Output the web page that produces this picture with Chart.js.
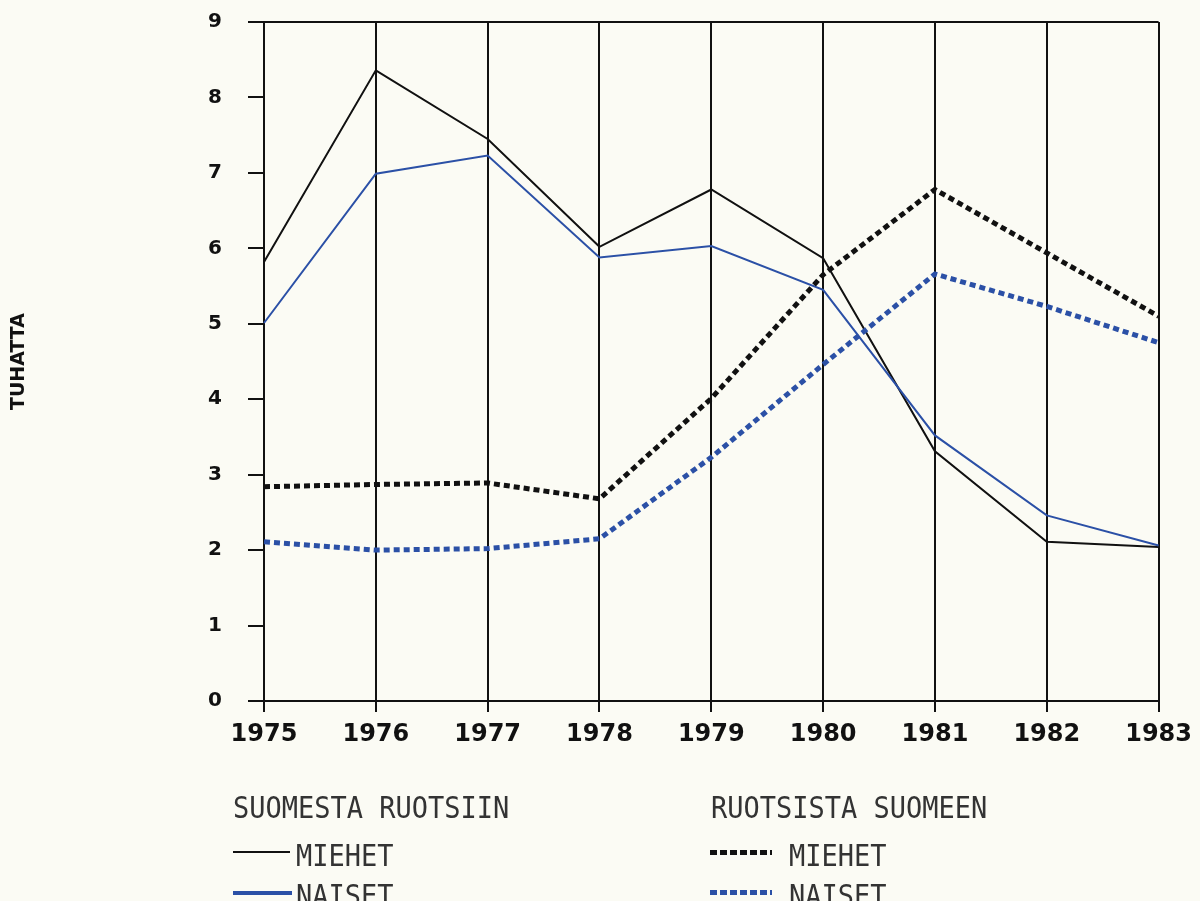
<!DOCTYPE html>
<html>
<head>
<meta charset="utf-8">
<script src="https://cdn.jsdelivr.net/npm/chart.js@4/dist/chart.umd.min.js"></script>
<style>
  html, body { margin: 0; padding: 0; background: #fbfbf4; }
  #wrap { position: relative; width: 1200px; height: 901px; overflow: hidden; }
  #chart { position: absolute; left: 0; top: 0; }
  .lg { position: absolute; font-family: "DejaVu Sans Mono", monospace; font-size: 27px;
        line-height: 27px; color: #333; white-space: nowrap; letter-spacing: 0px;
        transform-origin: left top; transform: scaleY(1.12); }
  .sw { position: absolute; height: 0; }
</style>
</head>
<body>
<div id="wrap">
  <canvas id="chart" width="1200" height="901"></canvas>

  <div class="lg" style="left:233px; top:792px;">SUOMESTA RUOTSIIN</div>
  <div class="lg" style="left:711px; top:792px;">RUOTSISTA SUOMEEN</div>

  <div class="sw" style="left:233px; top:851px; width:57px; border-top:2px solid #111;"></div>
  <div class="lg" style="left:296px; top:840px;">MIEHET</div>
  <div class="sw" style="left:233px; top:891px; width:59px; border-top:4px solid #2b50a6;"></div>
  <div class="lg" style="left:296px; top:880px;">NAISET</div>

  <div class="sw" style="left:710px; top:850px; width:62px; height:5px;
       background: repeating-linear-gradient(90deg, #111 0 7px, transparent 7px 10px);"></div>
  <div class="lg" style="left:789px; top:840px;">MIEHET</div>
  <div class="sw" style="left:710px; top:890px; width:62px; height:5px;
       background: repeating-linear-gradient(90deg, #2b50a6 0 7px, transparent 7px 10px);"></div>
  <div class="lg" style="left:789px; top:880px;">NAISET</div>
</div>

<script>
// Years on the horizontal axis
const years = ['1975', '1976', '1977', '1978', '1979', '1980', '1981', '1982', '1983'];

// Migration from Finland to Sweden (thousands)
const fiToSeMen   = [5.82, 8.36, 7.45, 6.02, 6.78, 5.87, 3.31, 2.11, 2.04];
const fiToSeWomen = [5.01, 6.99, 7.23, 5.88, 6.03, 5.45, 3.52, 2.46, 2.06];

// Migration from Sweden to Finland (thousands)
const seToFiMen   = [2.84, 2.87, 2.89, 2.68, 4.01, 5.65, 6.78, 5.94, 5.10];
const seToFiWomen = [2.11, 2.00, 2.02, 2.15, 3.23, 4.46, 5.66, 5.23, 4.75];

// Vertical axis range
const yMin = 0, yMax = 9, yStep = 1;

const INK = '#111111';
const BLUE = '#2b50a6';

const lineBase = { pointRadius: 0, tension: 0, fill: false, borderCapStyle: 'butt', borderJoinStyle: 'miter' };

new Chart(document.getElementById('chart'), {
  type: 'line',
  data: {
    labels: years,
    datasets: [
      Object.assign({ label: 'Ruotsista Suomeen, naiset', data: seToFiWomen, borderColor: BLUE, borderWidth: 5, borderDash: [6, 4] }, lineBase),
      Object.assign({ label: 'Ruotsista Suomeen, miehet', data: seToFiMen, borderColor: INK, borderWidth: 5, borderDash: [6, 4] }, lineBase),
      Object.assign({ label: 'Suomesta Ruotsiin, naiset', data: fiToSeWomen, borderColor: BLUE, borderWidth: 2 }, lineBase),
      Object.assign({ label: 'Suomesta Ruotsiin, miehet', data: fiToSeMen, borderColor: INK, borderWidth: 2 }, lineBase)
    ]
  },
  options: {
    responsive: false,
    animation: false,
    events: [],
    layout: { padding: { left: 0, right: 40, top: 22, bottom: 140 } },
    plugins: { legend: { display: false }, tooltip: { enabled: false } },
    scales: {
      x: {
        type: 'category',
        offset: false,
        grid: { color: INK, tickColor: INK, lineWidth: 2, tickLength: 11, drawOnChartArea: true },
        border: { display: true, color: INK, width: 2 },
        ticks: {
          color: INK, padding: 8, maxRotation: 0, autoSkip: false,
          font: { family: 'DejaVu Sans', weight: 'bold', size: 24 }
        },
        afterFit: s => { s.height = 60; }
      },
      y: {
        min: yMin, max: yMax,
        grid: {
          color: c => (c.tick && c.tick.value === yMax) ? INK : 'rgba(0,0,0,0)',
          tickColor: INK, lineWidth: 2, tickLength: 16, drawOnChartArea: true
        },
        border: { display: true, color: INK, width: 2 },
        ticks: {
          stepSize: yStep, color: INK, padding: 26,
          font: { family: 'DejaVu Sans', weight: 'bold', size: 20 }
        },
        title: {
          display: true, text: 'TUHATTA', color: INK,
          font: { family: 'DejaVu Sans', weight: 'bold', size: 19 },
          padding: { top: 8, bottom: 0 }
        },
        afterFit: s => { s.width = 264; s.paddingTop = 0; s.paddingBottom = 0; }
      }
    }
  }
});
</script>
</body>
</html>
